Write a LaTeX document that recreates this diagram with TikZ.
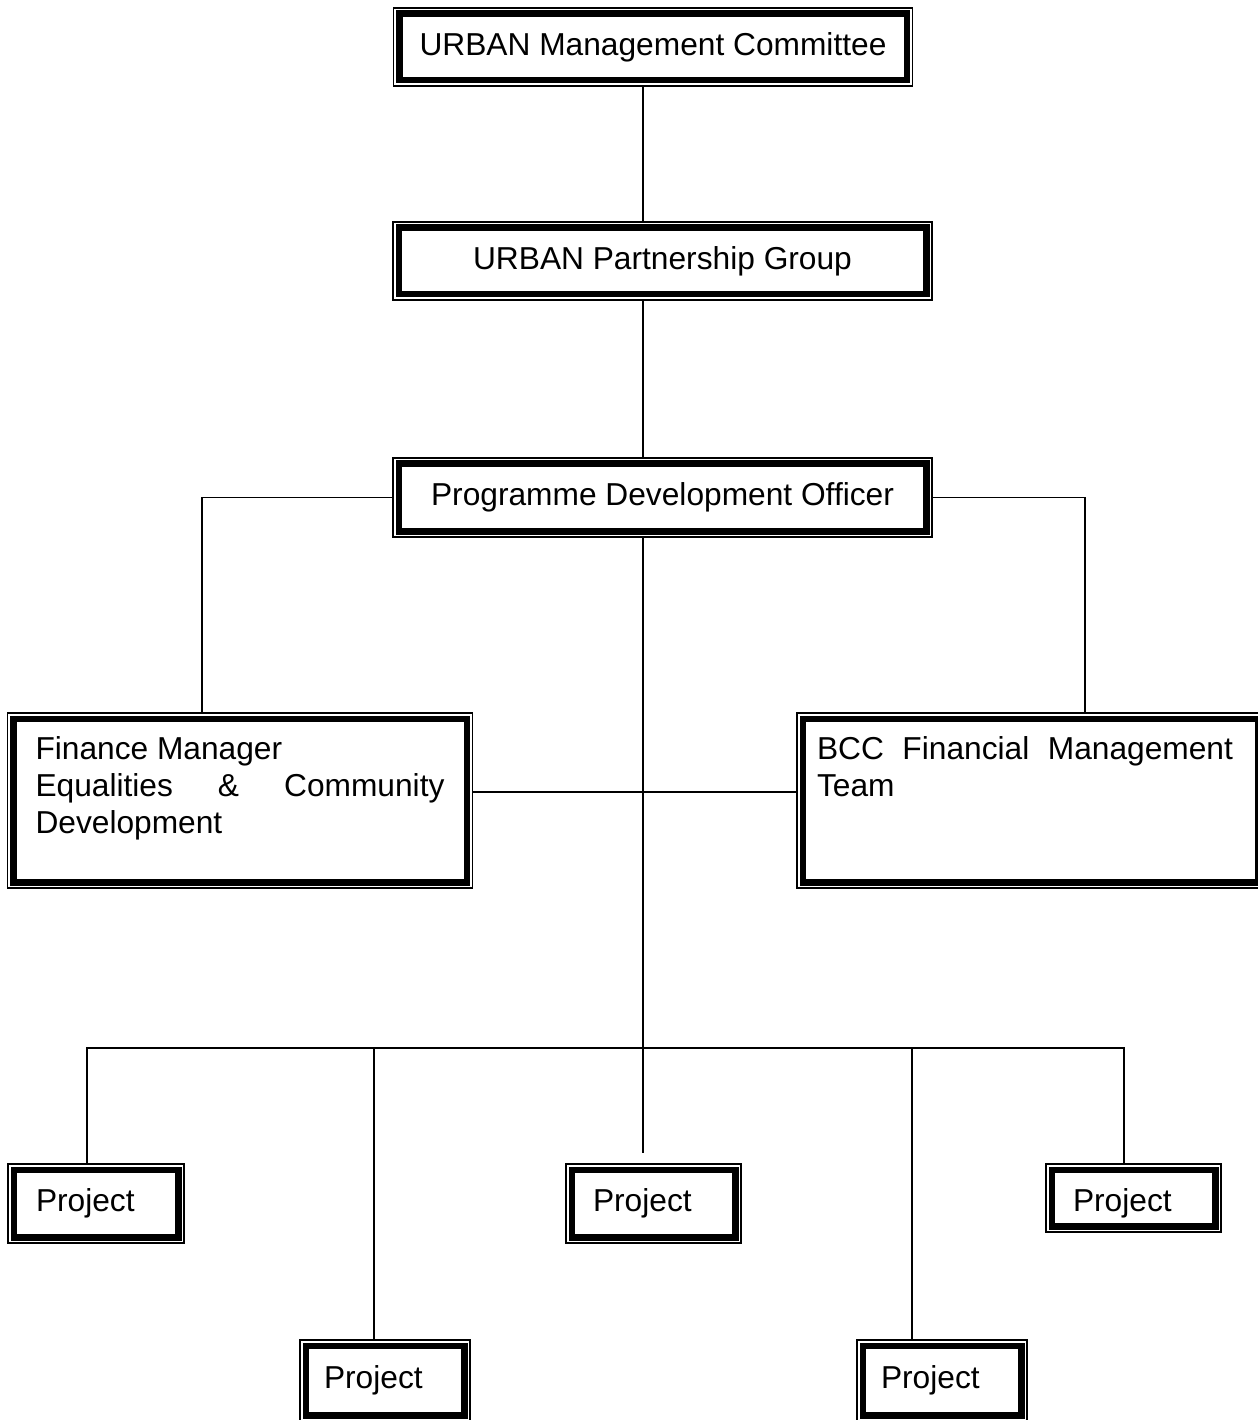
\documentclass[tikz,border=0pt]{standalone}
\usepackage{fontspec}
\setmainfont{Liberation Sans}
\usetikzlibrary{positioning}
\hyphenpenalty=10000
\newlength\pxu
\setlength\pxu{0.3785pt}

\begin{document}
\begin{tikzpicture}[
   x=0.3785pt, y=-0.3785pt,
   font=\fontsize{12}{14}\selectfont,
   dbox/.style={draw=black, line width=0.4pt, fill=white, inner sep=0pt,
               path picture={\draw[line width=6.5*\pxu]
                 ([shift={(5.75*\pxu,5.75*\pxu)}]path picture bounding box.south west) rectangle
                 ([shift={(-5.75*\pxu,-5.75*\pxu)}]path picture bounding box.north east);}},
   headbox/.style={dbox, align=center, minimum height=78*\pxu},
   projbox/.style={dbox, align=left, minimum height=79*\pxu, text width=121*\pxu, inner xsep=27*\pxu},
   link/.style={line width=0.5pt, color=black},
]
  \useasboundingbox[fill=white] (0,0) rectangle (1257,1420);

  % chain of command
  \node[headbox, minimum width=519*\pxu] (umc) at (653,47) {URBAN Management Committee};
  \node[headbox, minimum width=539*\pxu] (upg) at (662.5,261) {URBAN Partnership Group};
  \node[headbox, minimum width=539*\pxu, minimum height=79*\pxu] (pdo) at (662.5,497.5) {Programme Development Officer};

  % finance side boxes
  \node[dbox, minimum width=464*\pxu, minimum height=175*\pxu, inner xsep=28*\pxu, inner ysep=24*\pxu] (fin) at (240,800.5)
        {\parbox[c][127\pxu][t]{409\pxu}{Finance Manager\\ Equalities \& Community Development}};
  \node[dbox, minimum width=467*\pxu, minimum height=175*\pxu, inner xsep=20*\pxu, inner ysep=24*\pxu] (bcc) at (1030.5,800.5)
        {\parbox[c][127\pxu][t]{416\pxu}{BCC Financial Management Team}\hspace*{11\pxu}};

  % projects
  \node[projbox, text width=120*\pxu, inner xsep=28*\pxu] (p1) at (96,1203.5) {Project};
  \node[projbox] (p3) at (653.5,1203.5) {Project};
  \node[projbox, minimum height=68*\pxu, text height=12.5pt] (p5) at (1133.5,1198) {Project};
  \node[projbox, minimum height=81*\pxu, text width=122*\pxu, inner xsep=24*\pxu] (p2) at (385,1380.5) {Project};
  \node[projbox, minimum height=81*\pxu, text width=122*\pxu, inner xsep=24*\pxu] (p4) at (942,1380.5) {Project};

  \coordinate (trunk) at (643,0);
  \coordinate (trunkend) at (643,1153);
  \coordinate (lcol) at (202,0);
  \coordinate (rcol) at (1085,0);
  \coordinate (mid) at (643,792);
  \coordinate (bus) at (643,1048);
  \coordinate (leg1) at ([xshift=-9*\pxu]p1.north);
  \coordinate (leg2) at ([xshift=-11*\pxu]p2.north);
  \coordinate (leg4) at ([xshift=-30*\pxu]p4.north);
  \coordinate (leg5) at ([xshift=-9.5*\pxu]p5.north);

  \draw[link] (umc.south -| trunk) -- (upg.north -| trunk);
  \draw[link] (upg.south -| trunk) -- (pdo.north -| trunk);
  \draw[link] (pdo.south -| trunk) -- (trunkend);
  \draw[link] (pdo.west) -| (lcol |- fin.north);
  \draw[link] (pdo.east) -| (rcol |- bcc.north);
  \draw[link] (fin.east |- mid) -- (bcc.west |- mid);
  \draw[link] (leg1) |- (bus) -| (leg5);
  \draw[link] (leg2) -- (leg2 |- bus);
  \draw[link] (leg4) -- (leg4 |- bus);
\end{tikzpicture}
\end{document}
